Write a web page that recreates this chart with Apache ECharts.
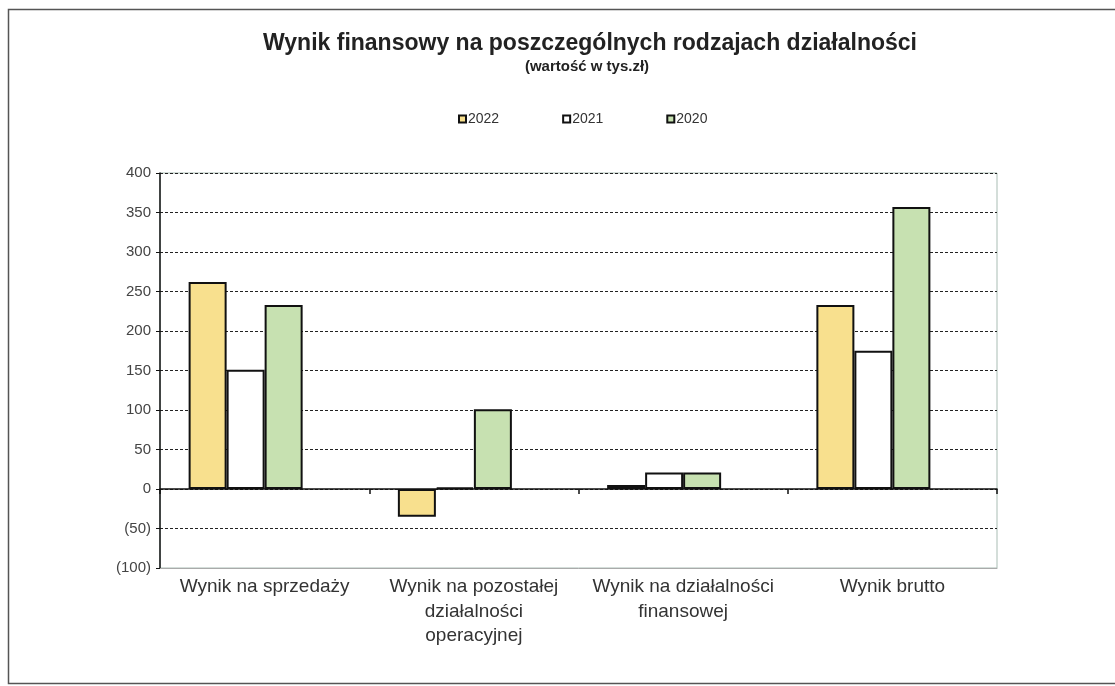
<!DOCTYPE html>
<html>
<head>
<meta charset="utf-8">
<script src="https://cdn.jsdelivr.net/npm/echarts@6/dist/echarts.min.js"></script>
<style>
html,body{margin:0;padding:0;background:#fff;}
#c{width:1115px;height:686px;}
</style>
</head>
<body>
<div id="c"></div>
<script>
var categories = ['Wynik na sprzedaży', 'Wynik na pozostałej\ndziałalności\noperacyjnej', 'Wynik na działalności\nfinansowej', 'Wynik brutto'];
var seriesNames = ['2022', '2021', '2020'];
var values2022 = [262, -35, 5, 233];
var values2021 = [151, 2, 21, 175];
var values2020 = [233, 101, 21, 357];
var yTicks = [-100, -50, 0, 50, 100, 150, 200, 250, 300, 350, 400];

var font = '"Liberation Sans", Arial, sans-serif';
var colors = ['#f8e08e', '#ffffff', '#c7e1b1'];

var chart = echarts.init(document.getElementById('c'), null, {renderer: 'canvas'});
function barSeries(name, data, color) {
  return {
    name: name, type: 'bar', data: data, barWidth: 38, barGap: '0%',
    itemStyle: {color: color, borderColor: '#111', borderWidth: 2},
    xAxisIndex: 0
  };
}
var option = {
  backgroundColor: '#fff',
  animation: false,
  title: [{
    text: 'Wynik finansowy na poszczególnych rodzajach działalności',
    left: 585, top: 27, textAlign: 'center',
    textStyle: {fontFamily: font, fontWeight: 'bold', fontSize: 23, color: '#222'}
  }, {
    text: '(wartość w tys.zł)',
    left: 582, top: 54, textAlign: 'center',
    textStyle: {fontFamily: font, fontWeight: 'bold', fontSize: 15, color: '#222'}
  }],
  legend: {
    data: seriesNames,
    left: 453, top: 107,
    icon: 'rect', itemWidth: 7, itemHeight: 7, itemGap: 63,
    itemStyle: {borderColor: '#111', borderWidth: 2},
    textStyle: {fontFamily: font, fontSize: 14, color: '#333', padding: [0, 0, 0, -3]}
  },
  graphic: [{
    type: 'rect', shape: {x: 8.5, y: 9.5, width: 1200, height: 674},
    style: {fill: 'none', stroke: '#555', lineWidth: 1.5}, silent: true
  }],
  grid: {left: 160, right: 118, top: 173, bottom: 118, show: true, borderColor: '#a9bdb4', borderWidth: 1, backgroundColor: 'transparent'},
  xAxis: [{
    type: 'category', data: categories, position: 'bottom',
    axisLine: {onZero: false, lineStyle: {color: '#aaa', width: 1}},
    axisTick: {show: false},
    axisLabel: {fontFamily: font, fontSize: 19, color: '#333', lineHeight: 24.5, margin: 7, interval: 0}
  }, {
    type: 'category', data: categories, position: 'bottom',
    axisLine: {onZero: true, lineStyle: {color: '#111', width: 1.5}},
    axisTick: {show: true, length: 5, inside: false, lineStyle: {color: '#111', width: 1.5}},
    axisLabel: {show: false}
  }],
  yAxis: {
    type: 'value', min: -100, max: 400, interval: 50,
    axisLine: {show: true, lineStyle: {color: '#111', width: 1.5}},
    axisTick: {show: true, length: 4, lineStyle: {color: '#111'}},
    axisLabel: {
      fontFamily: font, fontSize: 15, color: '#444', margin: 9,
      formatter: function (v) { return v < 0 ? '(' + Math.abs(v) + ')' : String(v); }
    },
    splitLine: {show: true, lineStyle: {color: '#222', type: [3, 2], width: 1}}
  },
  series: [
    barSeries('2022', values2022, colors[0]),
    barSeries('2021', values2021, colors[1]),
    barSeries('2020', values2020, colors[2]),
    {name: 'hidden', type: 'bar', data: [null, null, null, null], barWidth: 38, barGap: '0%', xAxisIndex: 0}
  ]
};
chart.setOption(option);
</script>
</body>
</html>
